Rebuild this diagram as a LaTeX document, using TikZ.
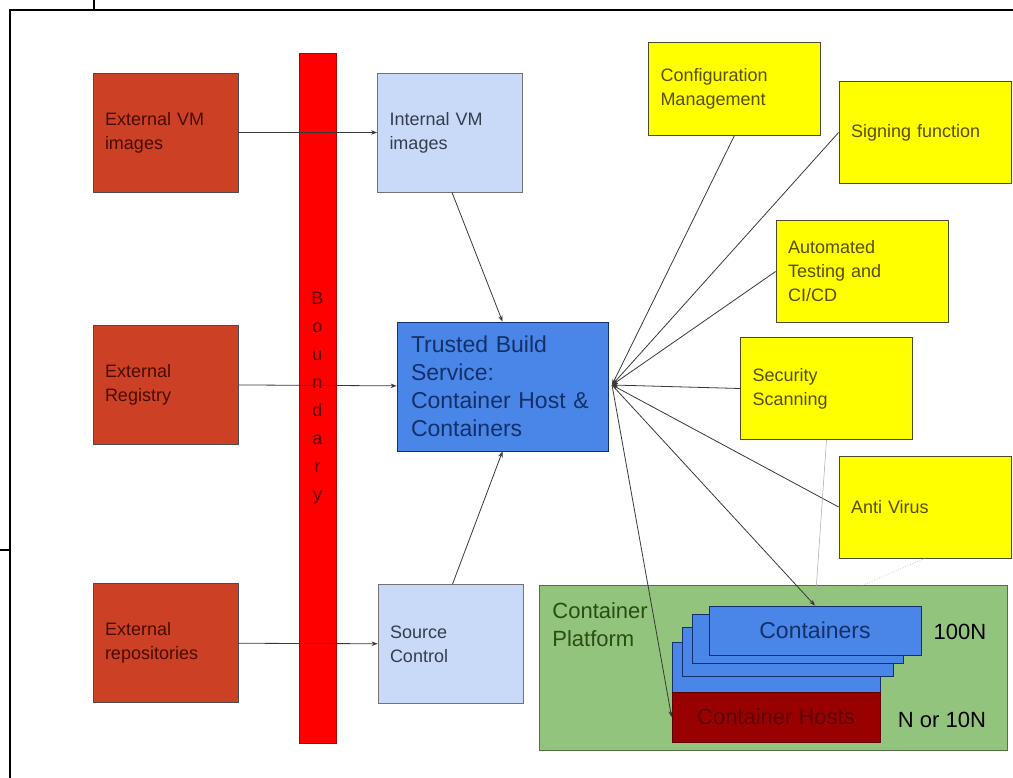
\documentclass[tikz,border=0pt]{standalone}
\usepackage{fontspec}
\setmainfont{Liberation Sans}
\usetikzlibrary{arrows.meta}
\definecolor{extColor}{HTML}{CC4125}
\definecolor{extText}{HTML}{4A0C00}
\definecolor{intColor}{HTML}{C9DAF8}
\definecolor{intText}{HTML}{333D4C}
\definecolor{tbsColor}{HTML}{4A86E8}
\definecolor{tbsText}{HTML}{13306A}
\definecolor{toolColor}{HTML}{FFFF00}
\definecolor{toolText}{HTML}{574E00}
\definecolor{platColor}{HTML}{93C47D}
\definecolor{platText}{HTML}{274E13}
\definecolor{hostColor}{HTML}{990000}
\definecolor{hostText}{HTML}{5C0000}
\definecolor{lineColor}{HTML}{383838}
\tikzset{
	base box/.style={rectangle, draw, line width=0.8pt, align=left, inner xsep=12pt, inner ysep=0pt},
	ext box/.style={base box, fill=extColor, draw=black!70, text=extText, text width=121pt, minimum height=119pt, font=\fontsize{18}{24}\selectfont},
	int box/.style={base box, fill=intColor, draw=black!55, text=intText, text width=121pt, minimum height=119pt, font=\fontsize{18}{24}\selectfont},
	tool box/.style={base box, fill=toolColor, draw=black!60!olive, text=toolText, text width=148pt, minimum height=102pt, font=\fontsize{18}{24}\selectfont},
	ctr box/.style={rectangle, draw=tbsText, line width=0.8pt, fill=tbsColor, minimum height=49pt}
}
\begin{document}
\begin{tikzpicture}[x=1pt, y=-1pt, ->, >={Stealth[length=6pt,width=4.5pt]}, lineColor, line width=0.8pt]
	\useasboundingbox (0,0) rectangle (1013,778);
	% page frame
	\draw[-, black, line width=1.2pt] (10,778) -- (10,10) -- (1013,10);
	\draw[-, black, line width=1.2pt] (94,0) -- (94,10);
	\draw[-, black, line width=1.2pt] (0,550) -- (10,550);

	\node[ext box] at (165.5,132.5) (ext_vm) {External VM\\images};
	\node[ext box] at (165.5,384.5) (ext_reg) {External\\Registry};
	\node[ext box] at (165.5,643) (ext_repo) {External\\repositories};

	\node[rectangle, draw=red!70!black, fill=red, minimum width=37pt, minimum height=690pt, inner sep=0pt, align=center, text=hostText, font=\fontsize{18}{28}\selectfont] at (317.5,398) (boundary) {B\\o\\u\\n\\d\\a\\r\\y};

	\node[int box] at (450,132.5) (int_vm) {Internal VM\\images};
	\node[int box] at (450.5,644) (src) {Source\\Control};
	\node[base box, fill=tbsColor, draw=tbsText, text=tbsText, inner xsep=14pt, text width=183pt, minimum height=129pt, font=\fontsize{23}{28}\selectfont] at (502.5,386.5) (tbs) {Trusted Build\\Service:\\Container Host \&\\Containers};
	\coordinate (hub) at (612,385);

	\node[tool box, minimum height=93pt] at (734.5,88.5) (cm) {Configuration\\Management};
	\node[tool box] at (925,132.5) (sign) {Signing function};
	\node[tool box] at (862,271.5) (auto) {Automated\\Testing and\\CI/CD};
	\node[tool box] at (826.5,388.5) (scan) {Security\\Scanning};
	\node[tool box] at (925,507) (av) {Anti Virus};

	% container platform
	\node[rectangle, draw=platText!80, fill=platColor, minimum width=468pt, minimum height=165pt] at (773,667.5) (plat) {};
	\node[anchor=north west, align=left, text=platText, inner sep=0pt, font=\fontsize{22}{28}\selectfont] at (552,602) (plat_lab) {Container\\Platform};
	\node[ctr box, minimum width=208pt, minimum height=50pt] at (776,667) (ctr_a) {};
	\node[ctr box, minimum width=211pt] at (787.5,651.5) (ctr_b) {};
	\node[ctr box, minimum width=211pt] at (797.5,638.5) (ctr_c) {};
	\node[ctr box, minimum width=212pt, text=tbsText, font=\fontsize{23}{28}\selectfont] at (815,630.5) (ctrs) {Containers};
	\node[rectangle, draw=hostText, fill=hostColor, minimum width=208pt, minimum height=50pt, text=hostText, font=\fontsize{22}{28}\selectfont] at (776,717) (hosts) {Container Hosts};
	\node[text=black, font=\fontsize{22}{28}\selectfont] at (960,632) (n100) {100N};
	\node[text=black, font=\fontsize{22}{28}\selectfont] at (942,720) (n10) {N or 10N};

	\path (ext_vm) edge (int_vm);
	\path (ext_reg) edge (tbs);
	\path (ext_repo) edge (src);
	\path (int_vm.south) ++(2,0) edge (tbs.north);
	\path (src.north) ++(2,0) edge (tbs.south);
	\path (cm.south) edge (hub);
	\path (sign.west) edge (hub);
	\path (auto.west) edge (hub);
	\path (scan.west) edge (hub);
	\path (av.west) edge (hub);
	\path (hub) edge (ctrs.north);
	\path (hub) edge (hosts.west);
	\path (scan.south) edge[-, black!35, line width=0.5pt] (ctrs.north);
	\path (av.south) edge[-, black!35, line width=0.6pt, dotted] (ctrs.north);
\end{tikzpicture}
\end{document}
